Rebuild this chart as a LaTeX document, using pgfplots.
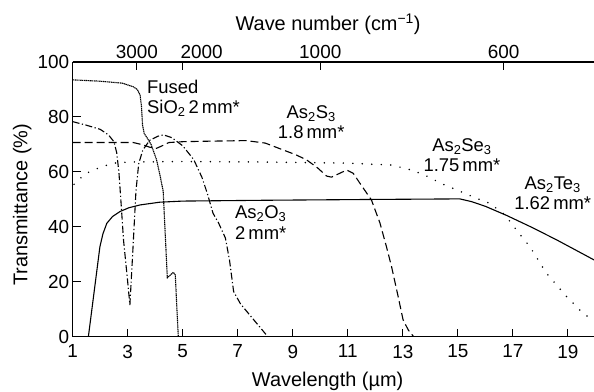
\documentclass[border=0pt]{standalone}
\usepackage{fontspec}
\setmainfont{Liberation Sans}
\usepackage{pgfplots}
\pgfplotsset{compat=1.18}
\tikzset{ann/.style={font=\fontsize{18.5}{22}\selectfont, inner sep=0pt}}
\begin{document}
\begin{tikzpicture}
\pgfplotsset{
  common/.style={
    scale only axis, width=521.5bp, height=275bp,
    xmin=1, xmax=19.95, ymin=0, ymax=100,
    /pgf/number format/assume math mode=true,
    tick align=inside, major tick length=8bp,
    every tick/.style={line width=1bp, black},
    axis line style={-, line width=1.1bp},
    tick label style={font=\fontsize{19}{22}\selectfont},
    label style={font=\fontsize{20}{24}\selectfont},
  },
}
\begin{axis}[common,
  axis x line*=bottom, axis y line*=left,
  xtick={1,3,...,19}, ytick={0,20,...,100},
  xticklabel style={yshift=-4.5bp},
  xlabel={Wavelength (µm)},
  ylabel={Transmittance (\%)},
  xlabel style={at={(axis description cs:0.489,-0.182)},anchor=base},
  ylabel style={at={(axis description cs:-0.097,0.48)},anchor=center},
]
% As2Te3 (solid)
\addplot[line width=1.1bp] coordinates {
(1.57,0)(1.99,32.8)(2.1,37.5)(2.24,41.3)(2.45,43.8)(2.72,45.6)(3.05,47)(3.45,48)(4.17,49)(5,49.4)(8,49.7)(12,50)(15.07,50.2)(15.5,49.2)(16,47.5)(16.77,44.2)(17.7,39.8)(18.59,35.3)(19.3,31.5)(19.95,28)
};
% As2S3 (dashed)
\addplot[line width=1.1bp, dash pattern=on 8bp off 4bp] coordinates {
(1,70.7)(3.2,70.7)(3.5,70)(3.8,69)(4.05,68.6)(4.25,69.5)(4.5,70.7)(5,71)(6,71.2)(7.3,71.4)(8,70.5)(8.65,68)(9.1,66.3)(9.5,64.4)(9.9,61.5)(10.23,58.5)(10.41,58.1)(10.6,59)(10.96,60.7)(11.2,59.5)(11.44,55.9)(11.86,49.8)(12.17,41.4)(12.4,33)(12.59,25.6)(12.83,14.7)(13.01,6.2)(13.2,2.5)(13.4,0)
};
% As2Se3 (dotted)
\addplot[line width=1.7bp, line cap=round, dash pattern=on 0bp off 9.5bp] coordinates {
(1.05,55.5)(1.2,57)(1.5,59.5)(1.75,60.7)(2.1,62)(2.48,63.2)(3,63.6)(5,63.8)(8,63.6)(11,63.2)(12.6,62.5)(13.0,61.5)(13.38,60.5)(13.92,58.3)(14.35,56)(14.95,53.5)(15.68,50.4)(16.16,48.6)(16.71,44.4)(17.13,38.9)(17.62,32.8)(18.22,23.2)(18.95,14.7)(19.55,8.6)(19.95,5.8)
};
% As2O3 (dash-dot)
\addplot[line width=1.1bp, dash pattern=on 7bp off 2.5bp on 1.2bp off 2.5bp] coordinates {
(1,78.3)(1.5,77)(2,75.5)(2.3,73.5)(2.5,71)(2.6,67)(2.68,60)(2.75,50)(2.85,35)(3.0,20)(3.08,11.6)(3.18,30)(3.3,53)(3.4,63)(3.55,68)(3.8,71.5)(4.1,73)(4.3,73.5)(4.6,72.5)(5,69.5)(5.4,64.5)(5.7,58)(5.9,52)(6.1,45)(6.3,41.5)(6.55,36)(6.7,28)(6.85,16.5)(7.1,12)(7.6,6)(8.1,0)
};
% Fused SiO2 (fine dotted)
\addplot[line width=1.1bp, dash pattern=on 1.3bp off 0.6bp] coordinates {
(1,93.5)(2,93)(2.8,92.3)(3.2,91)(3.35,90)(3.45,88)(3.5,84)(3.54,77)(3.6,74)(3.7,72.5)(3.85,70)(4.05,64.4)(4.18,58.5)(4.29,53)(4.44,21.5)(4.55,22.5)(4.66,23.5)(4.73,22.5)(4.78,12)(4.84,0)
};
\node[ann, anchor=base west] at (axis cs:3.70,88.7) {Fused};
\node[ann, anchor=base west] at (axis cs:3.70,81.3) {SiO\textsubscript{2}\,2\,mm*};
\node[ann, anchor=base] at (axis cs:9.67,79.4) {As\textsubscript{2}S\textsubscript{3}};
\node[ann, anchor=base] at (axis cs:9.67,72.0) {1.8\,mm*};
\node[ann, anchor=base] at (axis cs:15.15,67.4) {As\textsubscript{2}Se\textsubscript{3}};
\node[ann, anchor=base] at (axis cs:15.15,60.1) {1.75\,mm*};
\node[ann, anchor=base] at (axis cs:18.45,53.5) {As\textsubscript{2}Te\textsubscript{3}};
\node[ann, anchor=base] at (axis cs:18.45,46.2) {1.62\,mm*};
\node[ann, anchor=base west] at (axis cs:6.90,43.2) {As\textsubscript{2}O\textsubscript{3}};
\node[ann, anchor=base west] at (axis cs:6.90,35.5) {2\,mm*};
\end{axis}
\begin{axis}[common,
  axis x line*=top, hide y axis,
  xtick={3.33333,10,16.66667}, xticklabels={3000,1000,600},
  extra x ticks={5}, extra x tick labels={2000},
  extra x tick style={xticklabel style={xshift=19bp}},
  xlabel={Wave number (cm\textsuperscript{−1})},
  xlabel style={at={(axis description cs:0.49,1.113)},anchor=base},
]
\end{axis}
\pgfresetboundingbox
\path[use as bounding box] (-72.7bp,-55bp) rectangle (521.5bp,337bp);
\end{tikzpicture}
\end{document}
